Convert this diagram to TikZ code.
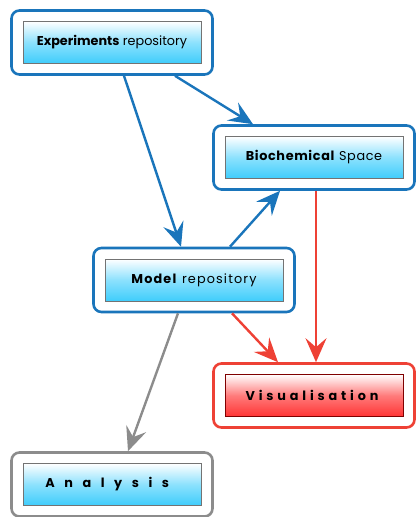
\documentclass[tikz,border=0pt]{standalone}
\usepackage{fontspec}
\setmainfont{Poppins}
\usetikzlibrary{arrows.meta,calc}
\definecolor{cblue}{HTML}{1A75BB}
\definecolor{cred}{HTML}{EE4135}
\definecolor{cgray}{HTML}{8C8C8C}
\definecolor{ccyan}{HTML}{3FCDFC}
\definecolor{cpink}{HTML}{FF3434}
\tikzset{
  outerbox/.style={draw, line width=2.6pt, rounded corners=8pt, minimum width=201pt, minimum height=64pt, inner sep=0pt},
  innerbox/.style={draw=gray!90!black, line width=0.7pt, minimum width=178pt, minimum height=42pt, inner sep=0pt, font=\fontsize{12.8}{14}\selectfont},
  cyanfill/.style={top color=white, bottom color=ccyan, middle color=ccyan!60},
  redfill/.style={top color=white, bottom color=cpink, middle color=cpink!65},
  conn/.style={line width=2.4pt, -{Stealth[length=24pt,width=21pt,inset=9pt]}},
}
\begin{document}
\begin{tikzpicture}[x=1pt,y=-1pt]
\useasboundingbox (0,0) rectangle (416,517);
% outer boxes
\node[outerbox, draw=cblue] (exp) at (112,42.5) {};
\node[outerbox, draw=cblue] (bio) at (314,157.5) {};
\node[outerbox, draw=cblue] (mod) at (194,280) {};
\node[outerbox, draw=cred] (vis) at (314,395.5) {};
\node[outerbox, draw=cgray] (ana) at (112,484.5) {};
% inner boxes
\node[innerbox, cyanfill] (expi) at (exp.center) {\textbf{Experiments} repository};
\node[innerbox, cyanfill] (bioi) at (bio.center) {\addfontfeature{LetterSpace=5}\textbf{Biochemical} Space};
\node[innerbox, cyanfill] (modi) at (mod.center) {\addfontfeature{LetterSpace=9}\textbf{Model} repository};
\node[innerbox, redfill, draw=red!50!black] (visi) at (vis.center) {\addfontfeature{LetterSpace=30}\textbf{Visualisation}};
\node[innerbox, cyanfill] (anai) at (ana.center) {\addfontfeature{LetterSpace=75}\textbf{Analysis}};
% connectors
\draw[conn, cblue] ([xshift=12pt]exp.south) -- ([xshift=-13pt]mod.north);
\draw[conn, cblue] ([xshift=63pt]exp.south) -- ([xshift=-61pt]bio.north);
\draw[conn, cblue] ([xshift=36pt]mod.north) -- ([xshift=-34pt]bio.south);
\draw[conn, cred] ([xshift=2pt]bio.south) -- ([xshift=2pt]vis.north);
\draw[conn, cred] ([xshift=38pt]mod.south) -- ([xshift=-36pt]vis.north);
\draw[conn, cgray] ([xshift=-16pt]mod.south) -- ([xshift=16pt]ana.north);
\end{tikzpicture}
\end{document}
